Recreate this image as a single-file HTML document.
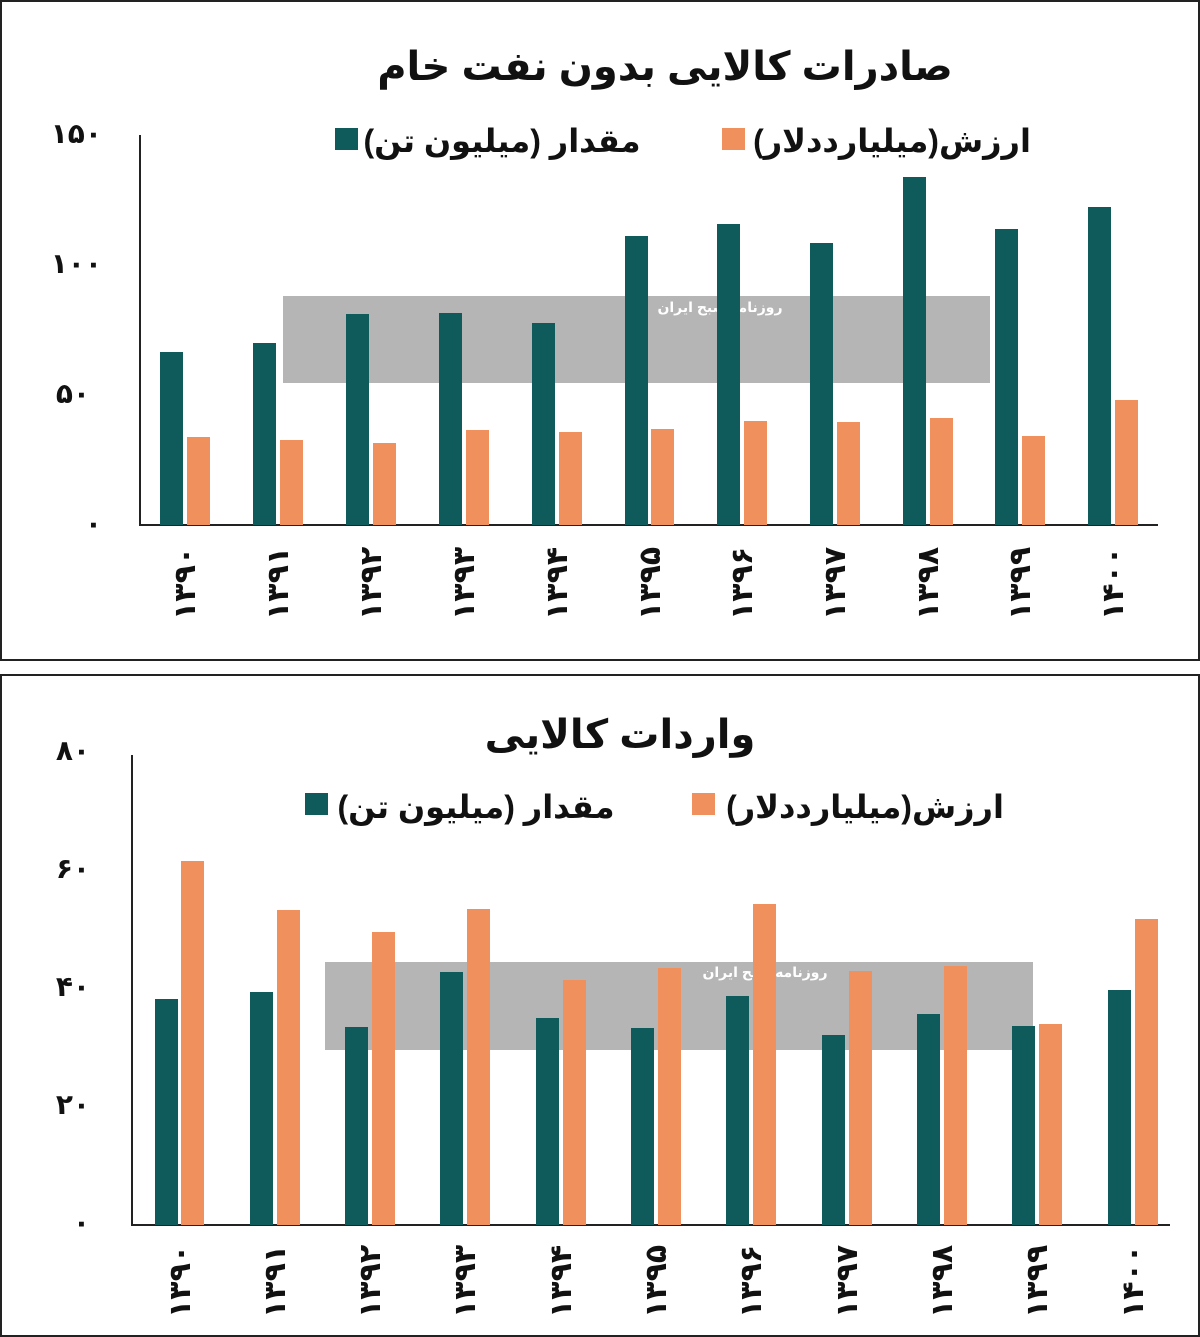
<!DOCTYPE html>
<html><head><meta charset="utf-8"><style>
body{margin:0;background:#fff;}
svg{display:block;}
text{font-family:"Liberation Sans","Noto Sans CJK SC","DejaVu Sans",sans-serif;font-weight:bold;fill:#111;}
</style></head><body>
<svg width="1200" height="1337" viewBox="0 0 1200 1337" xmlns="http://www.w3.org/2000/svg">
<rect x="0" y="0" width="1200" height="1337" fill="#fff"/>
<rect x="1" y="1" width="1198" height="659" fill="none" stroke="#222" stroke-width="2"/>
<rect x="1" y="675" width="1198" height="661" fill="none" stroke="#222" stroke-width="2"/>

<!-- TOP CHART -->
<text x="665" y="80" font-size="40" text-anchor="middle" direction="rtl">صادرات کالایی بدون نفت خام</text>
<rect x="335" y="128" width="23" height="22" fill="#0f5a5a"/>
<text x="502" y="152" font-size="32" text-anchor="middle" direction="rtl">مقدار (میلیون تن)</text>
<rect x="722" y="128" width="23" height="22" fill="#f0905c"/>
<text x="892" y="152" font-size="32" text-anchor="middle" direction="rtl">ارزش(میلیارددلار)</text>

<rect x="283" y="296" width="707" height="87" fill="#a8a8a8" opacity="0.85"/>
<text x="720" y="312" font-size="14" style="fill:#fff" text-anchor="middle" direction="rtl">روزنامه صبح ایران</text>

<g font-size="28" text-anchor="end">
<text x="102" y="143">۱۵۰</text>
<text x="102" y="273">۱۰۰</text>
<text x="90" y="403">۵۰</text>
<text x="102" y="533">۰</text>
</g>
<line x1="140" y1="135" x2="140" y2="526" stroke="#222" stroke-width="2"/>
<line x1="139" y1="525" x2="1158" y2="525" stroke="#222" stroke-width="2"/>

<g fill="#0f5a5a">
<rect x="160" y="352" width="23" height="173"/>
<rect x="253" y="343" width="23" height="182"/>
<rect x="346" y="314" width="23" height="211"/>
<rect x="439" y="313" width="23" height="212"/>
<rect x="532" y="323" width="23" height="202"/>
<rect x="625" y="236" width="23" height="289"/>
<rect x="717" y="224" width="23" height="301"/>
<rect x="810" y="243" width="23" height="282"/>
<rect x="903" y="177" width="23" height="348"/>
<rect x="995" y="229" width="23" height="296"/>
<rect x="1088" y="207" width="23" height="318"/>
</g>
<g fill="#f0905c">
<rect x="187" y="437" width="23" height="88"/>
<rect x="280" y="440" width="23" height="85"/>
<rect x="373" y="443" width="23" height="82"/>
<rect x="466" y="430" width="23" height="95"/>
<rect x="559" y="432" width="23" height="93"/>
<rect x="651" y="429" width="23" height="96"/>
<rect x="744" y="421" width="23" height="104"/>
<rect x="837" y="422" width="23" height="103"/>
<rect x="930" y="418" width="23" height="107"/>
<rect x="1022" y="436" width="23" height="89"/>
<rect x="1115" y="400" width="23" height="125"/>
</g>
<g font-size="30">
<text transform="translate(195,620) rotate(-90)">۱۳۹۰</text>
<text transform="translate(288,620) rotate(-90)">۱۳۹۱</text>
<text transform="translate(381,620) rotate(-90)">۱۳۹۲</text>
<text transform="translate(474,620) rotate(-90)">۱۳۹۳</text>
<text transform="translate(567,620) rotate(-90)">۱۳۹۴</text>
<text transform="translate(660,620) rotate(-90)">۱۳۹۵</text>
<text transform="translate(752,620) rotate(-90)">۱۳۹۶</text>
<text transform="translate(845,620) rotate(-90)">۱۳۹۷</text>
<text transform="translate(938,620) rotate(-90)">۱۳۹۸</text>
<text transform="translate(1030,620) rotate(-90)">۱۳۹۹</text>
<text transform="translate(1123,620) rotate(-90)">۱۴۰۰</text>
</g>

<!-- BOTTOM CHART -->
<text x="620" y="748" font-size="40" text-anchor="middle" direction="rtl">واردات کالایی</text>
<rect x="305" y="793" width="23" height="22" fill="#0f5a5a"/>
<text x="476" y="818" font-size="32" text-anchor="middle" direction="rtl">مقدار (میلیون تن)</text>
<rect x="692" y="793" width="23" height="22" fill="#f0905c"/>
<text x="865" y="818" font-size="32" text-anchor="middle" direction="rtl">ارزش(میلیارددلار)</text>

<rect x="325" y="962" width="708" height="88" fill="#a8a8a8" opacity="0.85"/>
<text x="765" y="977" font-size="14" style="fill:#fff" text-anchor="middle" direction="rtl">روزنامه صبح ایران</text>

<g font-size="28" text-anchor="end">
<text x="90" y="760">۸۰</text>
<text x="90" y="878">۶۰</text>
<text x="90" y="996">۴۰</text>
<text x="90" y="1114">۲۰</text>
<text x="90" y="1232">۰</text>
</g>
<line x1="132" y1="755" x2="132" y2="1226" stroke="#222" stroke-width="2"/>
<line x1="131" y1="1225" x2="1170" y2="1225" stroke="#222" stroke-width="2"/>

<g fill="#0f5a5a">
<rect x="155" y="999" width="23" height="226"/>
<rect x="250" y="992" width="23" height="233"/>
<rect x="345" y="1027" width="23" height="198"/>
<rect x="440" y="972" width="23" height="253"/>
<rect x="536" y="1018" width="23" height="207"/>
<rect x="631" y="1028" width="23" height="197"/>
<rect x="726" y="996" width="23" height="229"/>
<rect x="822" y="1035" width="23" height="190"/>
<rect x="917" y="1014" width="23" height="211"/>
<rect x="1012" y="1026" width="23" height="199"/>
<rect x="1108" y="990" width="23" height="235"/>
</g>
<g fill="#f0905c">
<rect x="181" y="861" width="23" height="364"/>
<rect x="277" y="910" width="23" height="315"/>
<rect x="372" y="932" width="23" height="293"/>
<rect x="467" y="909" width="23" height="316"/>
<rect x="563" y="980" width="23" height="245"/>
<rect x="658" y="968" width="23" height="257"/>
<rect x="753" y="904" width="23" height="321"/>
<rect x="849" y="971" width="23" height="254"/>
<rect x="944" y="966" width="23" height="259"/>
<rect x="1039" y="1024" width="23" height="201"/>
<rect x="1135" y="919" width="23" height="306"/>
</g>
<g font-size="30">
<text transform="translate(190,1318) rotate(-90)">۱۳۹۰</text>
<text transform="translate(285,1318) rotate(-90)">۱۳۹۱</text>
<text transform="translate(380,1318) rotate(-90)">۱۳۹۲</text>
<text transform="translate(475,1318) rotate(-90)">۱۳۹۳</text>
<text transform="translate(571,1318) rotate(-90)">۱۳۹۴</text>
<text transform="translate(666,1318) rotate(-90)">۱۳۹۵</text>
<text transform="translate(761,1318) rotate(-90)">۱۳۹۶</text>
<text transform="translate(857,1318) rotate(-90)">۱۳۹۷</text>
<text transform="translate(952,1318) rotate(-90)">۱۳۹۸</text>
<text transform="translate(1047,1318) rotate(-90)">۱۳۹۹</text>
<text transform="translate(1143,1318) rotate(-90)">۱۴۰۰</text>
</g>
</svg>
</body></html>
